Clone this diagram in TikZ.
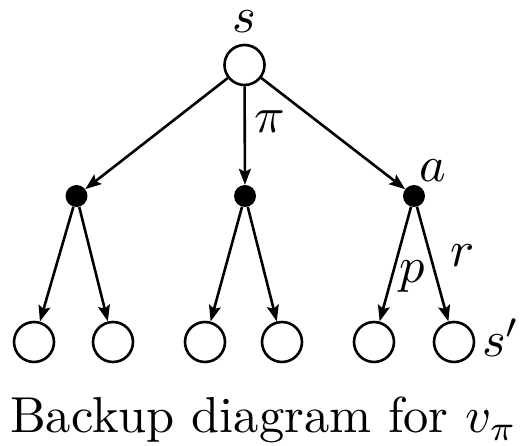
\documentclass[tikz,border=0pt]{standalone}
\usetikzlibrary{arrows.meta}
\begin{document}
\begin{tikzpicture}[x=1pt,y=-1pt,
  state/.style={circle,draw,line width=2.6pt,inner sep=0pt,minimum size=40pt,fill=white},
  action/.style={circle,fill=black,inner sep=0pt,minimum size=22pt},
  arr/.style={line width=2.6pt,-{Stealth[length=16pt,width=12pt,inset=3pt]}},
  lab/.style={anchor=base,inner sep=0pt,scale=5.05}]
\useasboundingbox (0,0) rectangle (523,446);
\node[state] (root) at (244.5,65) {};
\node[action] (a1) at (76.5,196) {};
\node[action] (a2) at (245,196) {};
\node[action] (a3) at (414,196) {};
\node[state] (l1) at (34,342) {};
\node[state] (l2) at (113,342) {};
\node[state] (l3) at (205,342) {};
\node[state] (l4) at (282,342) {};
\node[state] (l5) at (374,342) {};
\node[state] (l6) at (454,342) {};
\draw[arr] (root) -- (a1);
\draw[arr] (root) -- (a2);
\draw[arr] (root) -- (a3);
\draw[arr] (a1) -- (l1);
\draw[arr] (a1) -- (l2);
\draw[arr] (a2) -- (l3);
\draw[arr] (a2) -- (l4);
\draw[arr] (a3) -- (l5);
\draw[arr] (a3) -- (l6);
\node[lab] (ls) at (244,33) {$s$};
\node[lab] (lpi) at (270,133) {$\pi$};
\node[lab] (la) at (433,181.5) {$a$};
\node[lab] (lp) at (412,283) {$p$};
\node[lab] (lr) at (463,266.5) {$r$};
\node[lab,anchor=base west] (lsp) at (481,356.5) {$s'$};
\node[lab,anchor=base west] (cap) at (9,433) {Backup diagram for $v_\pi$};
\end{tikzpicture}
\end{document}
